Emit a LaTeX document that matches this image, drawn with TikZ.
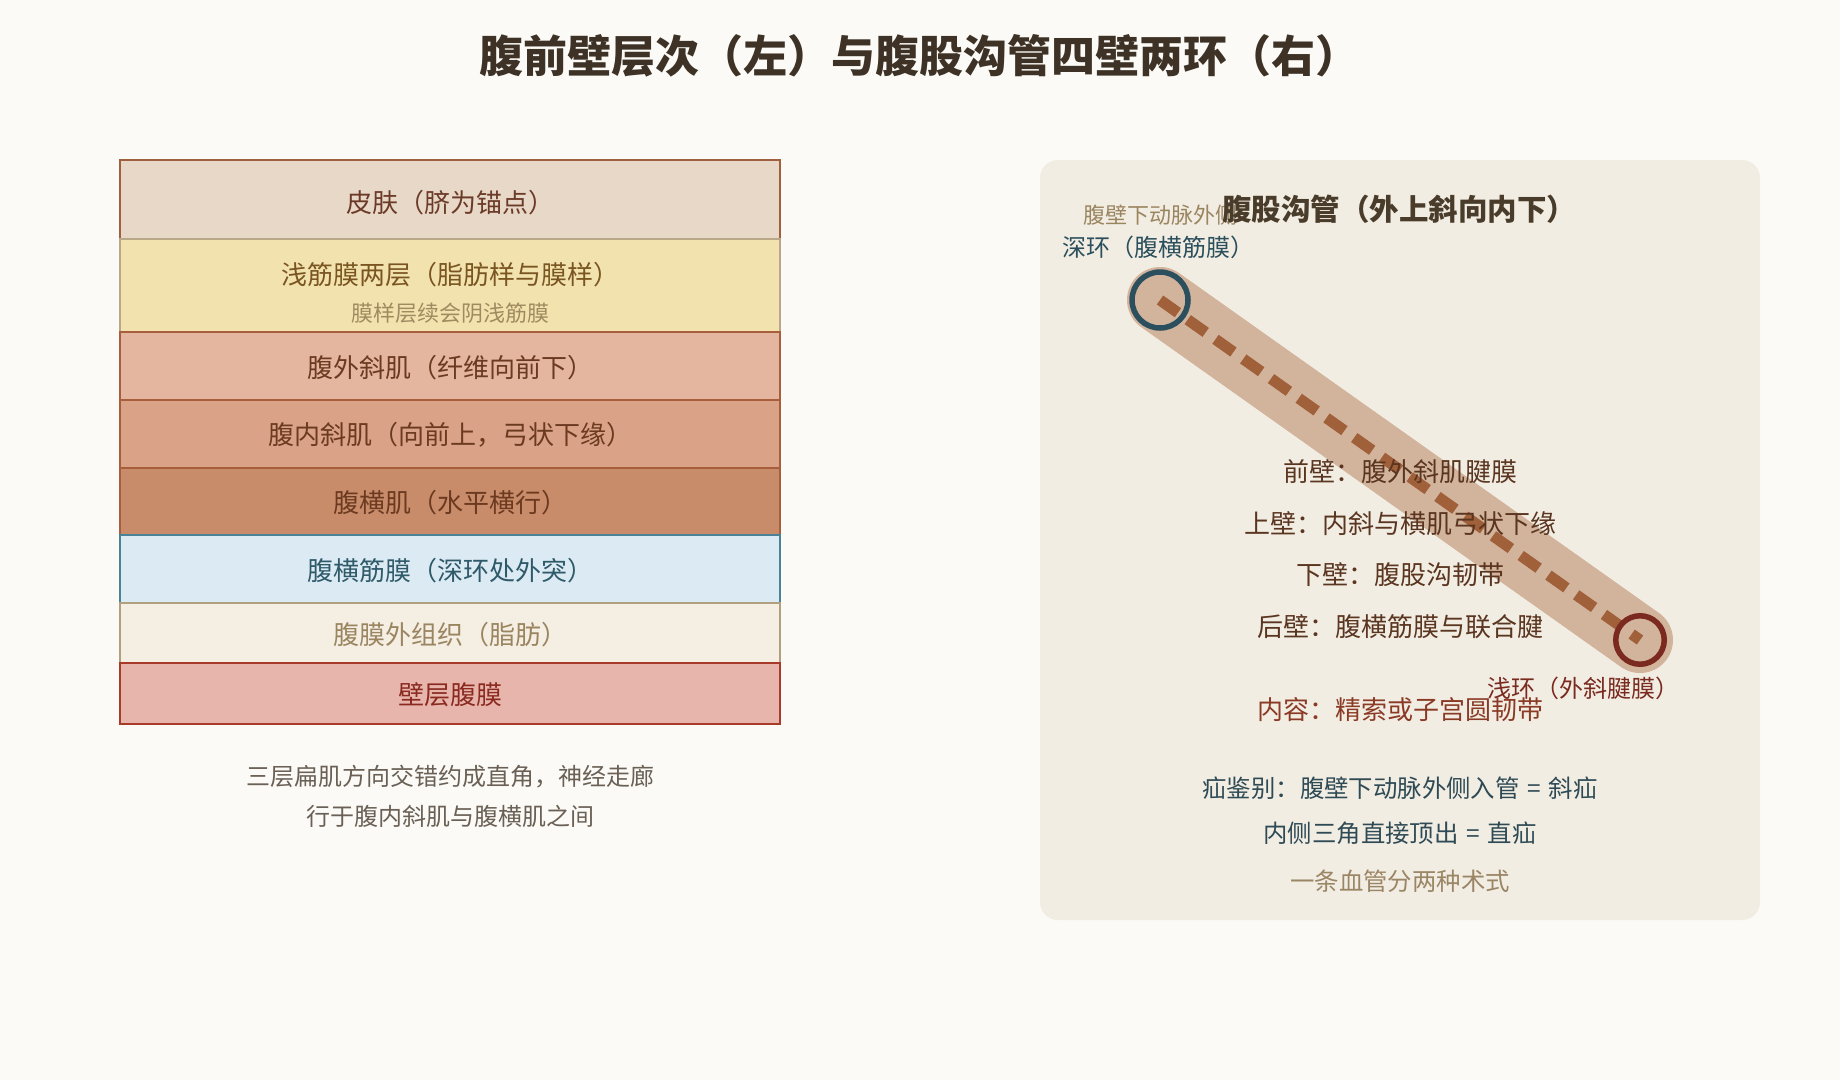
\documentclass[tikz,border=0pt]{standalone}
\usepackage{fontspec}
\setmainfont{Noto Sans CJK SC}
\definecolor{bgc}{HTML}{FBFAF6}
\definecolor{panelc}{HTML}{F2EDE3}
\definecolor{titlec}{HTML}{3D3225}
\definecolor{ptitlec}{HTML}{4A3C2A}
\definecolor{skinf}{HTML}{E8D8C8}
\definecolor{skind}{HTML}{A0603F}
\definecolor{skint}{HTML}{6B3A28}
\definecolor{fascf}{HTML}{F2E3AE}
\definecolor{fascd}{HTML}{B8A888}
\definecolor{fasct}{HTML}{7A5522}
\definecolor{fascs}{HTML}{A08A60}
\definecolor{eof}{HTML}{E4B59F}
\definecolor{iof}{HTML}{DAA286}
\definecolor{taf}{HTML}{C98C6A}
\definecolor{musd}{HTML}{A65E3C}
\definecolor{must}{HTML}{6B3A20}
\definecolor{tff}{HTML}{DBEAF3}
\definecolor{tfd}{HTML}{4A8298}
\definecolor{tft}{HTML}{2F5A6A}
\definecolor{exf}{HTML}{F5EEE3}
\definecolor{exd}{HTML}{B0A080}
\definecolor{ext}{HTML}{9A8560}
\definecolor{perf}{HTML}{E8B5AC}
\definecolor{perd}{HTML}{A83A2A}
\definecolor{pert}{HTML}{8A2A20}
\definecolor{capt}{HTML}{6A6055}
\definecolor{bandc}{HTML}{D2B39C}
\definecolor{dashc}{HTML}{A0603A}
\definecolor{deepc}{HTML}{2B4F5C}
\definecolor{supc}{HTML}{7A2A1F}
\definecolor{wallt}{HTML}{5A3520}
\definecolor{contt}{HTML}{8A3A25}
\definecolor{hernt}{HTML}{2E4A55}
\definecolor{notet}{HTML}{9A8565}
\newcommand{\eqsp}{\hspace{0.32em}=\hspace{0.32em}}
\tikzset{
  layer/.style={rectangle, minimum width=660pt, line width=2pt, inner sep=0pt},
  lt/.style={font=\fontsize{26}{30}\selectfont, inner sep=0pt},
  wt/.style={font=\fontsize{26}{30}\selectfont, inner sep=0pt, text=wallt},
  ht/.style={font=\fontsize{24.4}{30}\selectfont, inner sep=0pt},
  ringlabel/.style={font=\fontsize{24}{28}\selectfont, inner sep=0pt},
  ring/.style={circle, inner sep=0pt, line width=5.5pt},
}
\begin{document}
\begin{tikzpicture}[x=1pt,y=-1pt]
\useasboundingbox (0,0) rectangle (1840,1080);
\fill[bgc] (0,0) rectangle (1840,1080);

\node[font=\fontsize{44}{50}\selectfont\bfseries, text=titlec, inner sep=0pt] (title) at (919,56) {腹前壁层次（左）与腹股沟管四壁两环（右）};

% left layer stack
\node[layer, fill=skinf, draw=skind, minimum height=79.3pt] (skin) at (450,199.65) {};
\node[lt, text=skint] (skint) at (450,203) {皮肤（脐为锚点）};
\node[layer, fill=fascf, draw=fascd, minimum height=92.4pt] (fasc) at (450,285.5) {};
\node[lt, text=fasct] (fasct) at (450,274.5) {浅筋膜两层（脂肪样与膜样）};
\node[font=\fontsize{22}{26}\selectfont, inner sep=0pt, text=fascs] (fascs) at (450,313) {膜样层续会阴浅筋膜};
\node[layer, fill=eof, draw=musd, minimum height=68.3pt] (eo) at (450,365.85) {};
\node[lt, text=must] (eot) at (450,367.5) {腹外斜肌（纤维向前下）};
\node[layer, fill=iof, draw=musd, minimum height=67.7pt] (io) at (450,433.85) {};
\node[lt, text=must] (iot) at (450,435) {腹内斜肌（向前上，弓状下缘）};
\node[layer, fill=taf, draw=musd, minimum height=67.6pt] (ta) at (450,501.5) {};
\node[lt, text=must] (tat) at (450,503) {腹横肌（水平横行）};
\node[layer, fill=tff, draw=tfd, minimum height=68pt] (tf) at (450,569.3) {};
\node[lt, text=tft] (tft) at (450,571) {腹横筋膜（深环处外突）};
\node[layer, fill=exf, draw=exd, minimum height=60pt] (ex) at (450,633.3) {};
\node[lt, text=ext] (ext) at (450,635) {腹膜外组织（脂肪）};
\node[layer, fill=perf, draw=perd, minimum height=60.7pt] (per) at (450,693.65) {};
\node[lt, text=pert] (pert) at (450,695) {壁层腹膜};

\node[font=\fontsize{24}{28}\selectfont, inner sep=0pt, text=capt] (cap1) at (450,777) {三层扁肌方向交错约成直角，神经走廊};
\node[font=\fontsize{24}{28}\selectfont, inner sep=0pt, text=capt] (cap2) at (450,816) {行于腹内斜肌与腹横肌之间};

% right panel
\node[rectangle, rounded corners=18pt, fill=panelc, minimum width=720pt, minimum height=760pt, inner sep=0pt] (panel) at (1400,540) {};

\coordinate (deep) at (1160,300);
\coordinate (superf) at (1640,640);
\draw[bandc, line width=66pt, line cap=round] (deep) -- (superf);
\draw[dashc, line width=11pt, dash pattern=on 22pt off 12pt] (deep) -- (superf);
\node[ring, draw=deepc, minimum size=56pt] (deepring) at (deep) {};
\node[ring, draw=supc, minimum size=48.5pt] (supring) at (superf) {};

\node[font=\fontsize{22}{26}\selectfont, inner sep=0pt, text=ext] (iea) at (1160,215) {腹壁下动脉外侧};
\node[font=\fontsize{29.5}{34}\selectfont\bfseries, inner sep=0pt, text=ptitlec] (ptitle) at (1399,209) {腹股沟管（外上斜向内下）};
\node[ringlabel, text=deepc] (deepl) at (1158,247) {深环（腹横筋膜）};
\node[ringlabel, text=supc] (supl) at (1583,688) {浅环（外斜腱膜）};

\node[wt] (w1) at (1400,472) {前壁：腹外斜肌腱膜};
\node[wt] (w2) at (1400,524) {上壁：内斜与横肌弓状下缘};
\node[wt] (w3) at (1400,575) {下壁：腹股沟韧带};
\node[wt] (w4) at (1400,627) {后壁：腹横筋膜与联合腱};
\node[wt, text=contt] (cont) at (1400,710) {内容：精索或子宫圆韧带};

\node[ht, text=hernt] (h1) at (1400,788) {疝鉴别：腹壁下动脉外侧入管\eqsp 斜疝};
\node[ht, text=hernt] (h2) at (1400,833) {内侧三角直接顶出\eqsp 直疝};
\node[ht, text=notet] (h3) at (1400,881) {一条血管分两种术式};
\end{tikzpicture}
\end{document}
